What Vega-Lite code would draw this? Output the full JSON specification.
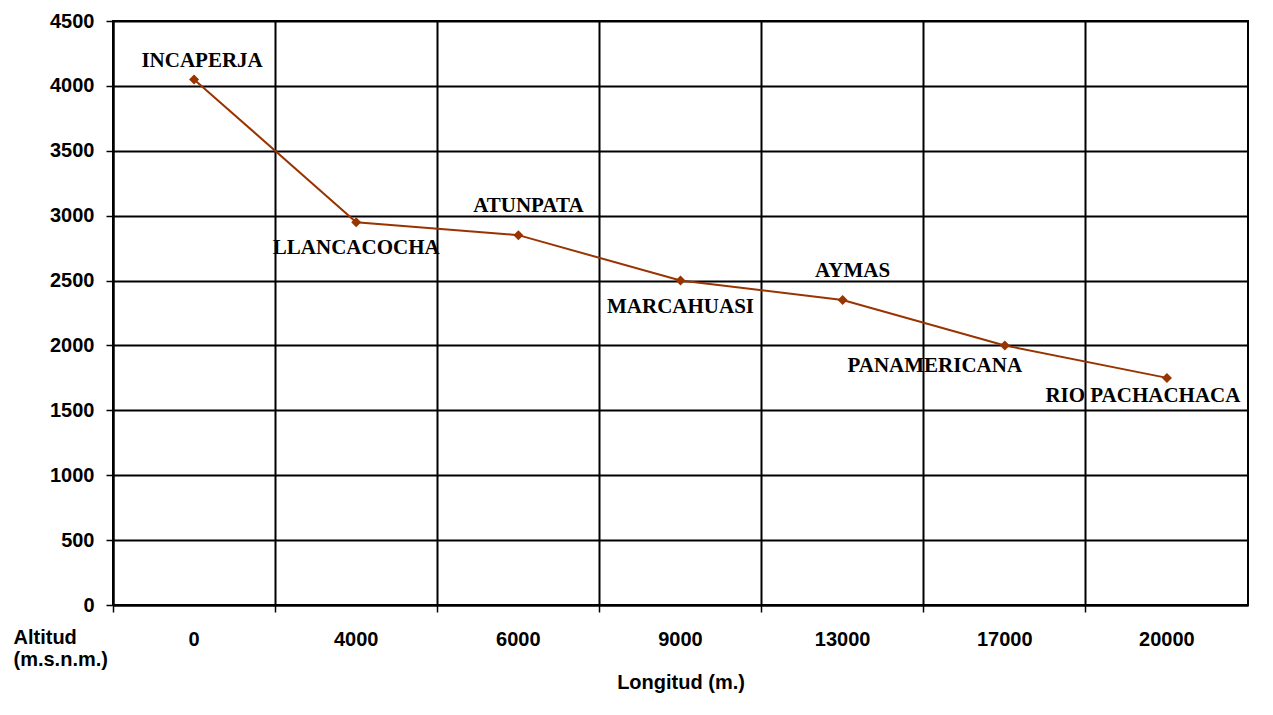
{
  "$schema": "https://vega.github.io/schema/vega-lite/v6.json",
  "autosize": {"type": "none"},
  "width": 1135,
  "height": 584,
  "padding": {"left": 113, "top": 21, "right": 25, "bottom": 110},
  "background": "white",
  "config": {
    "view": {"stroke": "black", "strokeWidth": 2},
    "axis": {
      "labelFont": "Liberation Sans",
      "labelFontWeight": "bold",
      "labelFontSize": 20,
      "labelColor": "black",
      "titleFont": "Liberation Sans",
      "titleFontWeight": "bold",
      "titleFontSize": 20,
      "titleColor": "black",
      "gridColor": "black",
      "gridWidth": 2,
      "gridOpacity": 1,
      "domainColor": "black",
      "domainWidth": 2,
      "tickColor": "black",
      "tickWidth": 1.5
    }
  },
  "data": {
    "values": [
      {"longitud": 0, "altitud": 4050, "lugar": "INCAPERJA"},
      {"longitud": 4000, "altitud": 2950, "lugar": "LLANCACOCHA"},
      {"longitud": 6000, "altitud": 2850, "lugar": "ATUNPATA"},
      {"longitud": 9000, "altitud": 2500, "lugar": "MARCAHUASI"},
      {"longitud": 13000, "altitud": 2350, "lugar": "AYMAS"},
      {"longitud": 17000, "altitud": 2000, "lugar": "PANAMERICANA"},
      {"longitud": 20000, "altitud": 1750, "lugar": "RIO PACHACHACA"}
    ]
  },
  "encoding": {
    "x": {
      "field": "longitud",
      "type": "ordinal",
      "sort": "ascending",
      "scale": {"type": "band", "paddingInner": 0, "paddingOuter": 0},
      "axis": {
        "title": "Longitud (m.)",
        "titleY": 83,
        "titleBaseline": "alphabetic",
        "labelAngle": 0,
        "bandPosition": 0,
        "tickSize": 7,
        "labelPadding": 17,
        "labelBaseline": "top",
        "grid": true
      }
    },
    "y": {
      "field": "altitud",
      "type": "quantitative",
      "scale": {"domain": [0, 4500], "nice": false, "zero": true},
      "axis": {
        "values": [0, 500, 1000, 1500, 2000, 2500, 3000, 3500, 4000, 4500],
        "format": "d",
        "title": ["Altitud", "(m.s.n.m.)"],
        "titleAngle": 0,
        "titleAlign": "left",
        "titleBaseline": "alphabetic",
        "titleX": -100,
        "titleY": 622,
        "titleLineHeight": 22,
        "tickSize": 7,
        "labelPadding": 12,
        "grid": true
      }
    }
  },
  "layer": [
    {"mark": {"type": "line", "color": "#993300", "strokeWidth": 2}},
    {"mark": {"type": "point", "shape": "diamond", "filled": true, "color": "#993300", "opacity": 1, "size": 100}},
    {
      "transform": [{"filter": {"field": "lugar", "oneOf": ["INCAPERJA"]}}],
      "mark": {"type": "text", "font": "Liberation Serif", "fontWeight": "bold", "fontSize": 21, "color": "black", "baseline": "alphabetic", "dx": 8, "dy": -12},
      "encoding": {"text": {"field": "lugar"}}
    },
    {
      "transform": [{"filter": {"field": "lugar", "oneOf": ["ATUNPATA", "AYMAS"]}}],
      "mark": {"type": "text", "font": "Liberation Serif", "fontWeight": "bold", "fontSize": 21, "color": "black", "baseline": "alphabetic", "dx": 10, "dy": -23},
      "encoding": {"text": {"field": "lugar"}}
    },
    {
      "transform": [{"filter": {"field": "lugar", "oneOf": ["LLANCACOCHA", "MARCAHUASI"]}}],
      "mark": {"type": "text", "font": "Liberation Serif", "fontWeight": "bold", "fontSize": 21, "color": "black", "baseline": "alphabetic", "dx": 0, "dy": 32},
      "encoding": {"text": {"field": "lugar"}}
    },
    {
      "transform": [{"filter": {"field": "lugar", "oneOf": ["PANAMERICANA"]}}],
      "mark": {"type": "text", "font": "Liberation Serif", "fontWeight": "bold", "fontSize": 21, "color": "black", "baseline": "alphabetic", "dx": -70, "dy": 27},
      "encoding": {"text": {"field": "lugar"}}
    },
    {
      "transform": [{"filter": {"field": "lugar", "oneOf": ["RIO PACHACHACA"]}}],
      "mark": {"type": "text", "font": "Liberation Serif", "fontWeight": "bold", "fontSize": 21, "color": "black", "baseline": "alphabetic", "dx": -24, "dy": 24},
      "encoding": {"text": {"field": "lugar"}}
    }
  ]
}
